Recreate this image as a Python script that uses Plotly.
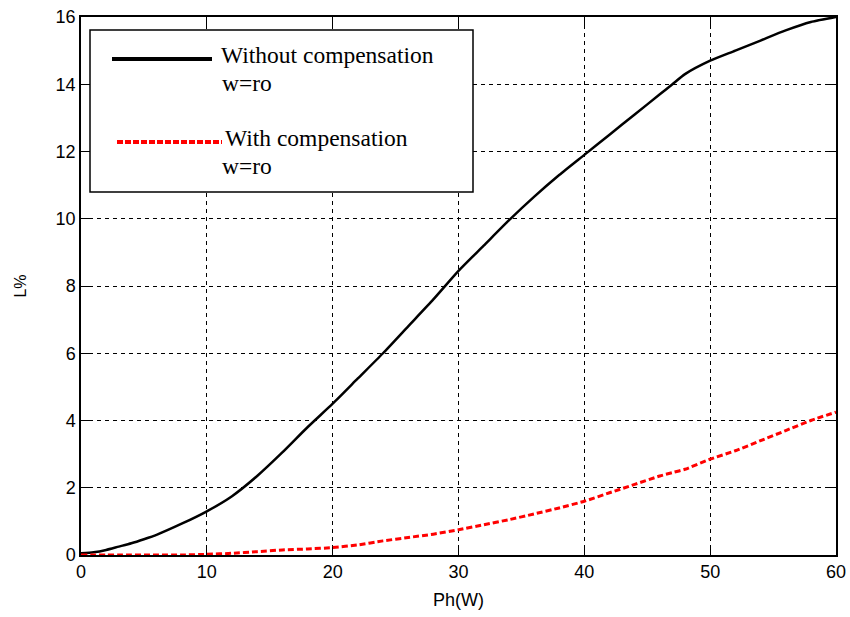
import plotly.graph_objects as go

# Data
ph = [0, 1, 2, 3, 4, 5, 6, 8, 10, 12, 14, 16, 18, 20, 22, 24, 26, 28, 30, 32, 34, 36, 38, 40,
      42, 44, 46, 47, 48, 50, 52, 54, 56, 58, 60]
l_without = [0.05, 0.08, 0.15, 0.25, 0.35, 0.47, 0.6, 0.93, 1.3, 1.75, 2.35, 3.05, 3.8, 4.5,
             5.25, 6.0, 6.8, 7.6, 8.45, 9.2, 9.95, 10.65, 11.3, 11.9, 12.5, 13.1, 13.7, 14.0,
             14.3, 14.7, 15.0, 15.3, 15.6, 15.85, 16.0]
l_with = [0.0, 0.0, 0.0, 0.0, 0.0, 0.0, 0.0, 0.0, 0.02, 0.05, 0.1, 0.15, 0.18, 0.22,
          0.3, 0.42, 0.52, 0.62, 0.75, 0.9, 1.05, 1.22, 1.4, 1.6,
          1.85, 2.1, 2.35, 2.45, 2.55, 2.85, 3.1, 3.4, 3.7, 4.0, 4.25]

x_ticks = [0, 10, 20, 30, 40, 50, 60]
y_ticks = [0, 2, 4, 6, 8, 10, 12, 14, 16]
legend_main = ["Without compensation", "With compensation"]
legend_sub = ["w=ro", "w=ro"]

W, H = 850, 617
L, R, T, B = 81, 14, 17, 62
PW, PH = W - L - R, H - T - B


def px(x):
    return (x - L) / PW


def py(y):
    return (H - B - y) / PH


fig = go.Figure()
fig.add_trace(go.Scatter(x=ph, y=l_without, mode="lines", name=legend_main[0],
                         line=dict(color="black", width=2.5, shape="spline", smoothing=0.6)))
fig.add_trace(go.Scatter(x=ph, y=l_with, mode="lines", name=legend_main[1],
                         line=dict(color="#ff0000", width=3, dash="6px,3px",
                                   shape="spline", smoothing=0.6)))

sans = "Liberation Sans Narrow, Liberation Sans, Arial"
axis_common = dict(showline=True, linecolor="black", linewidth=1.5, mirror="ticks",
                   ticks="inside", ticklen=8, tickcolor="black", tickwidth=1,
                   showgrid=True, gridcolor="black", gridwidth=1, griddash="4px,4px",
                   zeroline=False, automargin=False,
                   tickfont=dict(family=sans, size=18, color="black"))

fig.update_xaxes(range=[0, 60], tickvals=x_ticks, ticktext=[str(v) for v in x_ticks],
                 title=dict(text="Ph(W)", standoff=12,
                            font=dict(family=sans, size=18, color="black")),
                 **axis_common)
fig.update_yaxes(range=[0, 16], tickvals=y_ticks, ticktext=[str(v) for v in y_ticks],
                 title=dict(text="L%", standoff=25,
                            font=dict(family=sans, size=16, color="black")),
                 **axis_common)

# Manual legend box (MATLAB style)
shapes = [
    dict(type="rect", xref="paper", yref="paper", x0=px(90), x1=px(473), y0=py(192), y1=py(30),
         line=dict(color="black", width=1.5), fillcolor="white", layer="above"),
    dict(type="line", xref="paper", yref="paper", x0=px(112), x1=px(212), y0=py(59), y1=py(59),
         line=dict(color="black", width=4), layer="above"),
    dict(type="line", xref="paper", yref="paper", x0=px(117), x1=px(222), y0=py(142), y1=py(142),
         line=dict(color="#ff0000", width=4, dash="6px,2px"), layer="above"),
]
serif = dict(family="Liberation Serif, Times New Roman, serif", size=23.5, color="black")
annotations = [
    dict(text=legend_main[0], xref="paper", yref="paper", x=px(219), y=py(55),
         xanchor="left", yanchor="middle", showarrow=False, font=serif),
    dict(text=legend_sub[0], xref="paper", yref="paper", x=px(220), y=py(83),
         xanchor="left", yanchor="middle", showarrow=False, font=serif),
    dict(text=legend_main[1], xref="paper", yref="paper", x=px(223), y=py(138),
         xanchor="left", yanchor="middle", showarrow=False, font=serif),
    dict(text=legend_sub[1], xref="paper", yref="paper", x=px(220), y=py(166),
         xanchor="left", yanchor="middle", showarrow=False, font=serif),
]

fig.update_layout(width=W, height=H, margin=dict(l=L, r=R, t=T, b=B),
                  paper_bgcolor="white", plot_bgcolor="white", showlegend=False,
                  shapes=shapes, annotations=annotations)

fig.write_html("out.html")
